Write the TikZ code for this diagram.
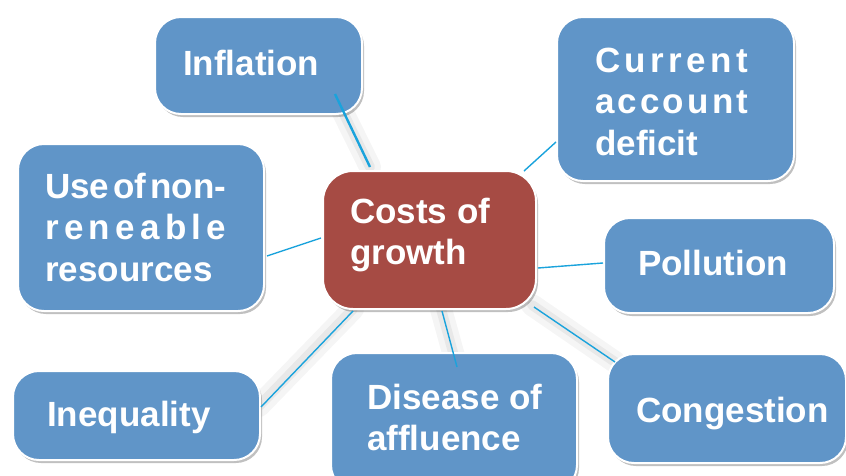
\documentclass[tikz,border=0pt]{standalone}
\usepackage{fontspec}
\setmainfont{Liberation Sans}
\usetikzlibrary{shadows}
\definecolor{boxblue}{RGB}{96,149,200}
\definecolor{boxred}{RGB}{166,75,68}
\definecolor{linkcyan}{RGB}{26,163,220}
\newcommand{\spreadline}[2]{\makebox[#1][s]{#2}}
\newcommand{\txtlines}[1]{\vtop{\baselineskip=41.5pt\lineskiplimit=-100pt\lineskip=0pt #1}}
\tikzset{
  card/.style={draw=white, line width=2pt, rounded corners=26pt, anchor=north west, inner sep=0pt,
    drop shadow={shadow xshift=2pt, shadow yshift=-3pt, opacity=0.35, fill=black!70}},
  bluecard/.style={card, fill=boxblue},
  redcard/.style={card, fill=boxred, rounded corners=30pt},
  cardtext/.style={anchor=base west, inner sep=0pt, text=white,
    font=\bfseries\fontsize{35}{41.5}\selectfont},
  link/.style={draw=linkcyan, line width=1.4pt},
  linkhalo/.style={draw=black, opacity=0.04, line width=22pt, line cap=round},
  linkhaloin/.style={draw=black, opacity=0.05, line width=10pt, line cap=round},
}
\begin{document}
\begin{tikzpicture}[x=1pt,y=-1pt]
\useasboundingbox (0,0) rectangle (846,475);
\clip (0,0) rectangle (846,475);
\fill[white] (0,0) rectangle (846,475);

% box positions (named coordinates used for halos drawn first)
\coordinate (inflA) at (333,92);
\coordinate (inflB) at (370,167);
\coordinate (ineqA) at (353,309);
\coordinate (ineqB) at (259,406);
\coordinate (disA) at (441,309);
\coordinate (disB) at (457,367);
\coordinate (congA) at (532,305);
\coordinate (congB) at (615,362);

% soft halos under connectors
\foreach \a/\b in {inflA/inflB, ineqA/ineqB, disA/disB, congA/congB}{
  \path[linkhalo] (\a) -- (\b);
  \path[linkhaloin] (\a) -- (\b);
}

% boxes
\node[bluecard, minimum width=207pt, minimum height=97pt] (infl) at (154,16) {};
\node[bluecard, minimum width=237pt, minimum height=164pt] (curr) at (556,16) {};
\node[bluecard, minimum width=246pt, minimum height=167pt] (use) at (17,143) {};
\node[bluecard, minimum width=230pt, minimum height=95pt] (poll) at (603,217) {};
\node[bluecard, minimum width=238pt, minimum height=109pt] (cong) at (607,353) {};
\node[bluecard, minimum width=247pt, minimum height=89pt] (ineq) at (12,370) {};
\node[bluecard, minimum width=246pt, minimum height=138pt] (dis) at (330,352) {};
\node[redcard, minimum width=213pt, minimum height=138pt] (costs) at (322,170) {};

% texts
\node[cardtext] (infl-t) at (183,75) {Inflation};
\node[cardtext] (curr-t) at (595,72) {\txtlines{\hbox{\spreadline{153pt}{C\hfil u\hfil r\hfil r\hfil e\hfil n\hfil t}}\hbox{\spreadline{153pt}{a\hfil c\hfil c\hfil o\hfil u\hfil n\hfil t}}\hbox{deficit}}};
\node[cardtext] (use-t) at (45,198) {\txtlines{\hbox{Use\hspace{4pt}of\hspace{4pt}non-}\hbox{\spreadline{181pt}{r\hfil e\hfil n\hfil e\hfil a\hfil b\hfil l\hfil e}}\hbox{resources}}};
\node[cardtext] (costs-t) at (350,223) {\txtlines{\hbox{Costs of}\hbox{growth}}};
\node[cardtext] (poll-t) at (638,275) {Pollution};
\node[cardtext] (cong-t) at (636,422) {Congestion};
\node[cardtext] (ineq-t) at (47,426) {Inequality};
\node[cardtext] (dis-t) at (367,409) {\txtlines{\hbox{Disease of}\hbox{affluence}}};

% connectors
\draw[link, line width=2.4pt] ([xshift=-28pt,yshift=21pt]infl.south east) -- ([xshift=48pt,yshift=3pt]costs.north west);
\draw[link] ([xshift=-13pt,yshift=-1pt]costs.north east) -- ([yshift=40pt]curr.south west);
\draw[link] ([xshift=2pt,yshift=56pt]use.south east) -- ([xshift=-1pt,yshift=2pt]costs.west);
\draw[link] ([xshift=1pt,yshift=-28pt]costs.east) -- ([yshift=2.5pt]poll.west);
\draw[link] ([xshift=-3pt,yshift=3pt]costs.south east) -- ([xshift=8pt,yshift=-9pt]cong.north west);
\draw[link] ([xshift=12.5pt,yshift=-1pt]costs.south) -- ([xshift=127pt,yshift=-15pt]dis.north west);
\draw[link] ([xshift=31pt,yshift=-1pt]costs.south west) -- ([yshift=8.5pt]ineq.east);
\end{tikzpicture}
\end{document}
